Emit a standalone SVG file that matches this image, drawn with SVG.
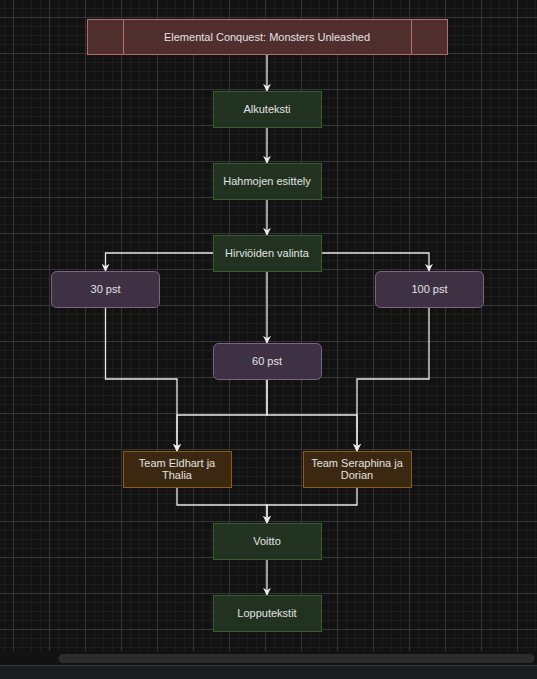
<svg xmlns="http://www.w3.org/2000/svg" width="537" height="679" viewBox="0 0 537 679">
<defs>
<pattern id="grid" x="13" y="17" width="36" height="36" patternUnits="userSpaceOnUse">
<rect width="36" height="36" fill="#121212"/>
<path d="M9.5 0V36M18.5 0V36M27.5 0V36M0 9.5H36M0 18.5H36M0 27.5H36" stroke="#1d1d1d" stroke-width="1" fill="none"/>
<path d="M0.5 0V36M0 0.5H36" stroke="#363636" stroke-width="1" fill="none"/>
</pattern>
<marker id="arr" viewBox="0 0 10 10" refX="9" refY="5" markerWidth="8" markerHeight="8" markerUnits="userSpaceOnUse" orient="auto">
<path d="M0,0 L10,5 L0,10 L3,5 z" fill="#ececec"/>
</marker>
<style>
text{font-family:"Liberation Sans",Arial,sans-serif;font-size:11px;fill:#e2e2e2;text-anchor:middle;dominant-baseline:central}
.green{fill:#213221;stroke:#3b5b33;stroke-width:1}
.purple{fill:#3d3143;stroke:#7c6486;stroke-width:1}
.brown{fill:#3c2810;stroke:#8c5c12;stroke-width:1}
.title{fill:#512e2e;stroke:#b46c6c;stroke-width:1}
.edge{fill:none;stroke:#e8e8e8;stroke-width:1.3}
</style>
</defs>
<rect x="0" y="0" width="537" height="651" fill="url(#grid)"/>
<rect x="0" y="651" width="537" height="14" fill="#121212"/>
<rect x="58.5" y="654" width="476" height="9" rx="4.5" fill="#2c2c2c"/>
<rect x="0" y="665" width="537" height="14" fill="#1b1c1e"/>
<line x1="0" y1="665.5" x2="537" y2="665.5" stroke="#3a3a3a"/>

<g id="connectors">
<path class="edge" d="M267 54V91" marker-end="url(#arr)"/>
<path class="edge" d="M267 127V163" marker-end="url(#arr)"/>
<path class="edge" d="M267 199V235" marker-end="url(#arr)"/>
<path class="edge" d="M213 253H105.5V271" marker-end="url(#arr)"/>
<path class="edge" d="M321 253H429V271" marker-end="url(#arr)"/>
<path class="edge" d="M267 271V343" marker-end="url(#arr)"/>
<path class="edge" d="M105.5 307V379H177V451" marker-end="url(#arr)"/>
<path class="edge" d="M429 307V379H357V451" marker-end="url(#arr)"/>
<path class="edge" d="M267 379V415H177V451" marker-end="url(#arr)"/>
<path class="edge" d="M267 379V415H357V451" marker-end="url(#arr)"/>
<path class="edge" d="M177 487V505H267V523" marker-end="url(#arr)"/>
<path class="edge" d="M357 487V505H267V523" marker-end="url(#arr)"/>
<path class="edge" d="M267 559V595" marker-end="url(#arr)"/>
</g>

<g id="title">
<rect class="title" x="87.5" y="19.5" width="360" height="35"/>
<path d="M123.5 19.5V54.5M411.5 19.5V54.5" stroke="#b46c6c" stroke-width="1"/>
<text x="267" y="37">Elemental Conquest: Monsters Unleashed</text>
</g>
<g id="alkuteksti">
<rect class="green" x="213.5" y="91.5" width="108" height="36"/>
<text x="267" y="109">Alkuteksti</text>
</g>
<g id="hahmojen">
<rect class="green" x="213.5" y="163.5" width="108" height="36"/>
<text x="267" y="181">Hahmojen esittely</text>
</g>
<g id="hirvioiden">
<rect class="green" x="213.5" y="235.5" width="108" height="36"/>
<text x="267" y="253">Hirviöiden valinta</text>
</g>
<g id="pst30">
<rect class="purple" x="51.5" y="271.5" width="108" height="36" rx="5"/>
<text x="105.5" y="289">30 pst</text>
</g>
<g id="pst100">
<rect class="purple" x="375.5" y="271.5" width="108" height="36" rx="5"/>
<text x="429.5" y="289">100 pst</text>
</g>
<g id="pst60">
<rect class="purple" x="213.5" y="343.5" width="108" height="36" rx="5"/>
<text x="267" y="361">60 pst</text>
</g>
<g id="eldhart">
<rect class="brown" x="123.5" y="451.5" width="108" height="36"/>
<text x="177" y="463">Team Eldhart ja</text>
<text x="177" y="475">Thalia</text>
</g>
<g id="seraphina">
<rect class="brown" x="303.5" y="451.5" width="108" height="36"/>
<text x="357" y="463">Team Seraphina ja</text>
<text x="357" y="475">Dorian</text>
</g>
<g id="voitto">
<rect class="green" x="213.5" y="523.5" width="108" height="36"/>
<text x="267" y="541">Voitto</text>
</g>
<g id="lopputekstit">
<rect class="green" x="213.5" y="595.5" width="108" height="36"/>
<text x="267" y="613">Lopputekstit</text>
</g>
</svg>
